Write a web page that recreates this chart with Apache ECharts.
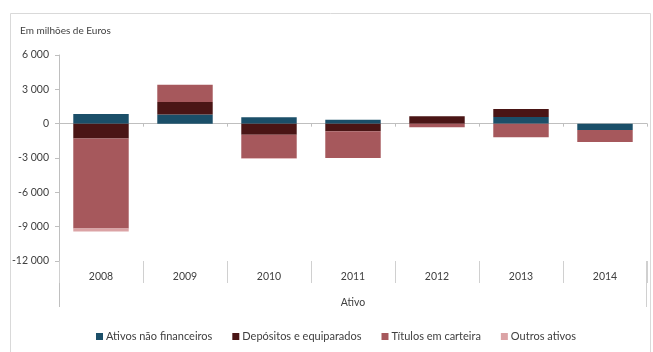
<!DOCTYPE html>
<html>
<head>
<meta charset="utf-8">
<script src="https://cdn.jsdelivr.net/npm/echarts@6/dist/echarts.min.js"></script>
<style>
  html, body { margin: 0; padding: 0; background: #ffffff; }
  #chart { width: 653px; height: 352px; }
</style>
</head>
<body>
<div id="chart"></div>
<script>
// Variação do ativo, em milhões de euros
const years = ['2008', '2009', '2010', '2011', '2012', '2013', '2014'];
const ativosNaoFinanceiros = [850, 800, 550, 350, 0, 580, -560];
const depositosEquiparados = [-1300, 1100, -960, -670, 640, 700, 0];
const titulosEmCarteira = [-7870, 1500, -2060, -2330, -320, -1190, -1050];
const outrosAtivos = [-260, 0, -50, 0, 0, 0, 0];
const yTicks = [6000, 3000, 0, -3000, -6000, -9000, -12000];

const FONT = 'Lato, "Open Sans", sans-serif';
const TEXT = '#404040';
const AXIS = '#bfbfbf';

function fmt(v) {
  const s = Math.abs(v).toString().replace(/\B(?=(\d{3})+(?!\d))/g, ' ');
  return (v < 0 ? '-' : '') + s;
}

const chart = echarts.init(document.getElementById('chart'), null, { renderer: 'canvas' });

function bar(name, data, color) {
  return {
    name: name,
    type: 'bar',
    stack: 'ativo',
    xAxisIndex: 0,
    barWidth: '66%',
    itemStyle: { color: color },
    data: data
  };
}

chart.setOption({
  animation: false,
  backgroundColor: '#ffffff',
  textStyle: { fontFamily: FONT },
  grid: { left: 59, right: 6, top: 55, bottom: 91, containLabel: false },
  title: {
    text: 'Em milhões de Euros',
    left: 15, top: 21,
    textStyle: { fontFamily: FONT, fontSize: 10, fontWeight: 'normal', color: TEXT }
  },
  legend: {
    bottom: 5, left: 91,
    icon: 'rect', itemWidth: 7, itemHeight: 7, itemGap: 20,
    textStyle: { fontFamily: FONT, fontSize: 11, color: TEXT, padding: [0, 0, 0, -2] },
    data: ['Ativos não financeiros', 'Depósitos e equiparados', 'Títulos em carteira', 'Outros ativos']
  },
  xAxis: [
    {
      type: 'category', data: years, position: 'bottom',
      axisLine: { onZero: true, lineStyle: { color: AXIS, width: 1 } },
      axisTick: { show: true, length: 3, lineStyle: { color: AXIS } },
      axisLabel: { show: false },
      splitLine: { show: false }
    },
    {
      type: 'category', data: years, position: 'bottom',
      axisLine: { show: false, onZero: false },
      axisTick: { show: true, length: 22, lineStyle: { color: '#d0d0d0' } },
      axisLabel: { show: true, margin: 10, fontFamily: FONT, fontSize: 10.5, color: TEXT },
      name: 'Ativo', nameLocation: 'middle', nameGap: 36,
      nameTextStyle: { fontFamily: FONT, fontSize: 10.5, color: TEXT }
    }
  ],
  yAxis: {
    type: 'value', min: -12000, max: 6000, interval: 3000,
    axisLine: { show: true, lineStyle: { color: AXIS } },
    axisTick: { show: true, length: 4, lineStyle: { color: AXIS } },
    splitLine: { show: false },
    axisLabel: { fontFamily: FONT, fontSize: 10.5, color: TEXT, margin: 10, formatter: fmt }
  },
  series: [
    bar('Ativos não financeiros', ativosNaoFinanceiros, '#1b4f69'),
    bar('Depósitos e equiparados', depositosEquiparados, '#4a1515'),
    bar('Títulos em carteira', titulosEmCarteira, '#a6585c'),
    bar('Outros ativos', outrosAtivos, '#dba3a5')
  ]
});

// Frame around the chart plus the taller outer dividers of the category band
const bandAxis = chart.getModel().getComponent('xAxis', 1).axis;
const half = bandAxis.getBandWidth() / 2;
const left = chart.convertToPixel({ xAxisIndex: 1 }, 0) - half;
const right = chart.convertToPixel({ xAxisIndex: 1 }, years.length - 1) + half;
const yBottom = chart.convertToPixel({ yAxisIndex: 0 }, -12000);
const ext = 46;
chart.setOption({
  graphic: [
    { type: 'rect', silent: true, shape: { x: 10.5, y: 13.5, width: 640, height: 360 },
      style: { fill: null, stroke: '#d9d9d9', lineWidth: 1 }, z: -1 },
    { type: 'line', silent: true, shape: { x1: Math.round(left) + 0.5, y1: yBottom, x2: Math.round(left) + 0.5, y2: yBottom + ext },
      style: { stroke: AXIS, lineWidth: 1 } },
    { type: 'line', silent: true, shape: { x1: Math.round(right) - 0.5, y1: yBottom, x2: Math.round(right) - 0.5, y2: yBottom + ext },
      style: { stroke: '#d0d0d0', lineWidth: 1 } }
  ]
});
</script>
</body>
</html>
